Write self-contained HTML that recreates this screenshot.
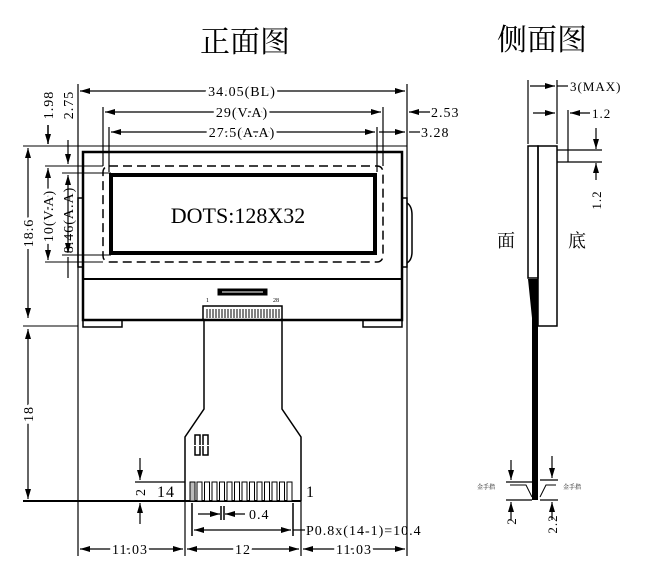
<!DOCTYPE html>
<html><head><meta charset="utf-8"><style>
html,body{margin:0;padding:0;background:#fff;}
svg{display:block;}
text{font-family:"Liberation Serif","Noto Serif CJK SC",serif;fill:#000;}
.d{letter-spacing:1px;}
</style></head><body>
<svg width="660" height="572" viewBox="0 0 660 572" xmlns="http://www.w3.org/2000/svg">
<defs>
<marker id="a" viewBox="0 0 10 6" refX="10" refY="3" markerWidth="10" markerHeight="6" orient="auto-start-reverse" markerUnits="userSpaceOnUse"><path d="M0,0 L10,3 L0,6 z" fill="#000"/></marker>
</defs>
<text x="200" y="52" font-size="30">正面图</text>
<text x="497" y="50" font-size="30">侧面图</text>

<g stroke="#000" fill="none">
<line x1="78" y1="84" x2="78" y2="556" stroke-width="1.2"/>
<line x1="407" y1="84" x2="407" y2="556" stroke-width="1.2"/>
<line x1="23" y1="146" x2="407" y2="146" stroke-width="1"/>
<rect x="83" y="152" width="319" height="168" stroke-width="2.5"/>
<line x1="83" y1="279" x2="402" y2="279" stroke-width="2"/>
<path d="M83,320 V327 H122 V320 M363,320 V327 H402 V320" stroke-width="1.5"/>
<rect x="78" y="198" width="5" height="69" stroke-width="1.5"/>
<rect x="402" y="198" width="5" height="69" stroke-width="1.5"/>
<path d="M407,203 Q412,206 412,215 V252 Q412,260 407,263" stroke-width="1.5"/>
<rect x="103" y="166" width="280" height="96" rx="6" stroke-width="1.5" stroke-dasharray="9,5"/>
<rect x="111" y="175" width="264" height="78" stroke-width="4"/>
<rect x="218" y="289" width="49" height="6" fill="#000"/>
<rect x="203" y="306" width="79" height="14" stroke-width="1.5"/>
<path d="M204,320 V409 L185,437 V501 M282,320 V409 L301,437 V501" stroke-width="1.5"/>
<line x1="23" y1="501" x2="301" y2="501" stroke-width="2"/>
<path d="M195,445 V435 H200 V445 M203,445 V435 H208 V445 M195,446 V455 H200 V446 M203,446 V455 H208 V446" stroke-width="1.5"/>
<line x1="28" y1="148" x2="28" y2="318" stroke-width="1.2" marker-start="url(#a)" marker-end="url(#a)"/>
<line x1="23" y1="326" x2="78" y2="326" stroke-width="1"/>
<line x1="28" y1="329" x2="28" y2="499" stroke-width="1.2" marker-start="url(#a)" marker-end="url(#a)"/>
<line x1="45" y1="166" x2="103" y2="166" stroke-width="1"/>
<line x1="45" y1="262" x2="103" y2="262" stroke-width="1"/>
<line x1="62" y1="173" x2="111" y2="173" stroke-width="1"/>
<line x1="62" y1="255" x2="111" y2="255" stroke-width="1"/>
<line x1="48" y1="125" x2="48" y2="144" stroke-width="1.5" marker-end="url(#a)"/>
<line x1="48" y1="168" x2="48" y2="260" stroke-width="1.2" marker-start="url(#a)" marker-end="url(#a)"/>
<line x1="68" y1="140" x2="68" y2="164" stroke-width="1.2" marker-end="url(#a)"/>
<line x1="68" y1="175" x2="68" y2="253" stroke-width="1.2" marker-start="url(#a)" marker-end="url(#a)"/>
<line x1="68" y1="257" x2="68" y2="278" stroke-width="1.2"/>
<line x1="80" y1="91" x2="405" y2="91" stroke-width="1.2" marker-start="url(#a)" marker-end="url(#a)"/>
<line x1="103" y1="107" x2="103" y2="166" stroke-width="1.2"/>
<line x1="383" y1="107" x2="383" y2="166" stroke-width="1.2"/>
<line x1="109" y1="127" x2="109" y2="172" stroke-width="1.2"/>
<line x1="377" y1="127" x2="377" y2="172" stroke-width="1.2"/>
<line x1="105" y1="112" x2="381" y2="112" stroke-width="1.2" marker-start="url(#a)" marker-end="url(#a)"/>
<line x1="111" y1="132" x2="375" y2="132" stroke-width="1.2" marker-start="url(#a)" marker-end="url(#a)"/>
<line x1="430" y1="112" x2="409" y2="112" stroke-width="1.2" marker-end="url(#a)"/>
<line x1="379" y1="132" x2="405" y2="132" stroke-width="1.2" marker-end="url(#a)"/>
<line x1="409" y1="132" x2="420" y2="132" stroke-width="1.2"/>
<line x1="185" y1="501" x2="185" y2="556" stroke-width="1.2"/>
<line x1="301" y1="501" x2="301" y2="556" stroke-width="1.2"/>
<line x1="80" y1="549" x2="183" y2="549" stroke-width="1.2" marker-start="url(#a)" marker-end="url(#a)"/>
<line x1="187" y1="549" x2="299" y2="549" stroke-width="1.2" marker-start="url(#a)" marker-end="url(#a)"/>
<line x1="303" y1="549" x2="405" y2="549" stroke-width="1.2" marker-start="url(#a)" marker-end="url(#a)"/>
<line x1="192" y1="503" x2="192" y2="536" stroke-width="1.5"/>
<line x1="293" y1="503" x2="293" y2="536" stroke-width="1.5"/>
<line x1="194" y1="530" x2="291" y2="530" stroke-width="1.2" marker-start="url(#a)" marker-end="url(#a)"/>
<line x1="293" y1="530" x2="305" y2="530" stroke-width="1.2"/>
<line x1="198" y1="514" x2="220" y2="514" stroke-width="1.2" marker-end="url(#a)"/>
<line x1="245" y1="514" x2="225" y2="514" stroke-width="1.2" marker-end="url(#a)"/>
<line x1="221" y1="506" x2="221" y2="520" stroke-width="1.5"/>
<line x1="224" y1="506" x2="224" y2="520" stroke-width="1.5"/>
<line x1="135" y1="482" x2="185" y2="482" stroke-width="1.2"/>
<line x1="140" y1="458" x2="140" y2="480" stroke-width="1.2" marker-end="url(#a)"/>
<line x1="140" y1="524" x2="140" y2="503" stroke-width="1.2" marker-end="url(#a)"/>
</g>
<g fill="#fff" stroke="#000" stroke-width="1">
<rect x="190" y="482" width="5" height="19" fill="#bbb"/>
<rect x="197" y="482" width="5" height="19"/><rect x="204.5" y="482" width="5" height="19"/><rect x="212" y="482" width="5" height="19"/><rect x="219.5" y="482" width="5" height="19"/><rect x="227" y="482" width="5" height="19"/><rect x="234.5" y="482" width="5" height="19"/><rect x="242" y="482" width="5" height="19"/><rect x="249.5" y="482" width="5" height="19"/><rect x="257" y="482" width="5" height="19"/><rect x="264.5" y="482" width="5" height="19"/><rect x="272" y="482" width="5" height="19"/><rect x="279.5" y="482" width="5" height="19"/><rect x="287" y="482" width="5" height="19"/>
</g>
<g stroke="#000" stroke-width="1">
<path d="M207,309V318M210,309V318M213,309V318M216,309V318M219,309V318M222,309V318M225,309V318M228,309V318M231,309V318M234,309V318M237,309V318M240,309V318M243,309V318M246,309V318M249,309V318M252,309V318M255,309V318M258,309V318M261,309V318M264,309V318M267,309V318M270,309V318M273,309V318M276,309V318M279,309V318"/>
</g>
<line x1="222" y1="292" x2="263" y2="292" stroke="#fff" stroke-width="1"/>

<text x="238" y="223" font-size="22" text-anchor="middle">DOTS:128X32</text>
<text x="206" y="302" font-size="6">1</text>
<text x="273" y="302" font-size="6">28</text>
<g font-size="14" class="d">
<text x="242" y="96" text-anchor="middle" stroke="#fff" stroke-width="6" paint-order="stroke">34.05(BL)</text>
<text x="242" y="117" text-anchor="middle" stroke="#fff" stroke-width="6" paint-order="stroke">29(V.A)</text>
<text x="242" y="137" text-anchor="middle" stroke="#fff" stroke-width="6" paint-order="stroke">27.5(A.A)</text>
<text x="431" y="117">2.53</text>
<text x="421" y="137">3.28</text>
<text x="130" y="554" text-anchor="middle" stroke="#fff" stroke-width="6" paint-order="stroke">11.03</text>
<text x="243" y="554" text-anchor="middle" stroke="#fff" stroke-width="6" paint-order="stroke">12</text>
<text x="354" y="554" text-anchor="middle" stroke="#fff" stroke-width="6" paint-order="stroke">11.03</text>
<text x="306" y="535">P0.8x(14-1)=10.4</text>
<text x="249" y="519">0.4</text>
<text x="157" y="497" font-size="16">14</text>
<text x="306" y="497" font-size="16">1</text>
<text transform="translate(33,233) rotate(-90)" text-anchor="middle" stroke="#fff" stroke-width="6" paint-order="stroke">18.6</text>
<text transform="translate(33,414) rotate(-90)" text-anchor="middle" stroke="#fff" stroke-width="6" paint-order="stroke">18</text>
<text transform="translate(53,216) rotate(-90)" text-anchor="middle" stroke="#fff" stroke-width="6" paint-order="stroke">10(V.A)</text>
<text transform="translate(73,220) rotate(-90)" text-anchor="middle">8.46(A.A)</text>
<text transform="translate(53,105) rotate(-90)" text-anchor="middle">1.98</text>
<text transform="translate(73,105) rotate(-90)" text-anchor="middle">2.75</text>
<text transform="translate(145,492) rotate(-90)" text-anchor="middle">2</text>
</g>

<g stroke="#000" fill="none" stroke-width="1.5">
<rect x="528" y="146" width="10" height="132"/>
<rect x="538" y="146" width="19" height="180"/>
<line x1="528" y1="80" x2="528" y2="144" stroke-width="1.2"/>
<line x1="557" y1="80" x2="557" y2="144" stroke-width="1.2"/>
<line x1="530" y1="86" x2="555" y2="86" stroke-width="1.2" marker-end="url(#a)"/>
<line x1="557" y1="86" x2="568" y2="86" stroke-width="1.2"/>
<line x1="568" y1="110" x2="568" y2="162" stroke-width="1.2"/>
<line x1="533" y1="113" x2="555" y2="113" stroke-width="1.2" marker-end="url(#a)"/>
<line x1="590" y1="113" x2="570" y2="113" stroke-width="1.2" marker-end="url(#a)"/>
<line x1="557" y1="150" x2="602" y2="150" stroke-width="1.2"/>
<line x1="557" y1="162" x2="602" y2="162" stroke-width="1.2"/>
<line x1="596" y1="128" x2="596" y2="149" stroke-width="1.2" marker-end="url(#a)"/>
<line x1="596" y1="180" x2="596" y2="163" stroke-width="1.2" marker-end="url(#a)"/>
<line x1="506" y1="482" x2="532" y2="482" stroke-width="1.2"/>
<line x1="506" y1="500" x2="532" y2="500" stroke-width="1.2"/>
<line x1="540" y1="480" x2="558" y2="480" stroke-width="1.2"/>
<line x1="540" y1="500" x2="558" y2="500" stroke-width="1.2"/>
<path d="M510,485 H526 L532,497 M556,485 H546 L540,497" stroke-width="1"/>
<line x1="511" y1="460" x2="511" y2="480" stroke-width="1.2" marker-end="url(#a)"/>
<line x1="511" y1="520" x2="511" y2="502" stroke-width="1.2" marker-end="url(#a)"/>
<line x1="552" y1="456" x2="552" y2="478" stroke-width="1.2" marker-end="url(#a)"/>
<line x1="552" y1="520" x2="552" y2="502" stroke-width="1.2" marker-end="url(#a)"/>
</g>
<path d="M528,279 H538 V500 H532 V318 Z" fill="#000"/>
<text x="497" y="247" font-size="18">面</text>
<text x="568" y="247" font-size="18">底</text>
<g font-size="13" class="d">
<text x="570" y="91">3(MAX)</text>
<text x="592" y="118">1.2</text>
<text transform="translate(601,200) rotate(-90)" text-anchor="middle">1.2</text>
<text transform="translate(516,521) rotate(-90)" text-anchor="middle">2</text>
<text transform="translate(557,524) rotate(-90)" text-anchor="middle">2.2</text>
</g>
<text x="477" y="489" font-size="6">金手指</text>
<text x="563" y="489" font-size="6">金手指</text>
</svg>
</body></html>
